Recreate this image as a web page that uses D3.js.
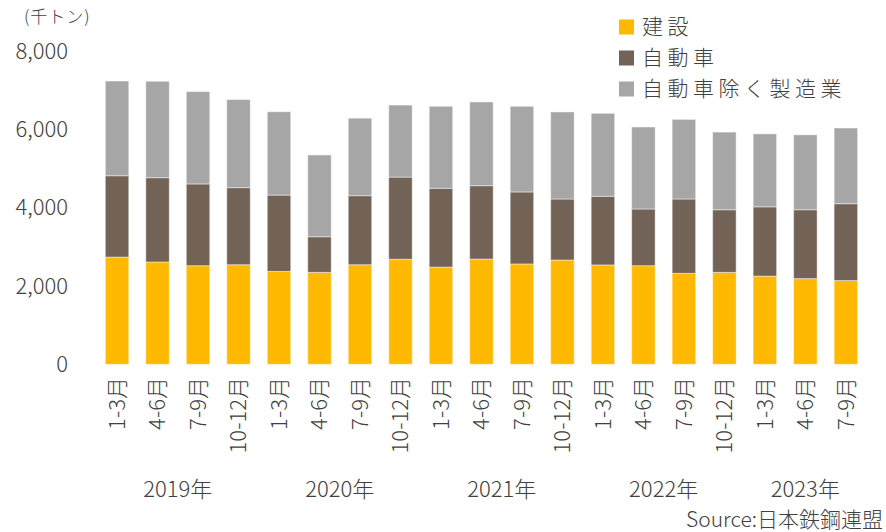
<!DOCTYPE html>
<html>
<head>
<meta charset="utf-8">
<script src="https://cdn.jsdelivr.net/npm/d3@7"></script>
<style>
  html, body { margin: 0; padding: 0; background: #fff; }
  svg { display: block; font-family: "Noto Sans CJK JP", "Noto Sans", sans-serif; font-weight: 300; }
  text { fill: #404040; }
</style>
</head>
<body>
<div id="chart"></div>
<script>
// data (thousand tonnes)
const quarters = ['1-3月', '4-6月', '7-9月', '10-12月',
  '1-3月', '4-6月', '7-9月', '10-12月',
  '1-3月', '4-6月', '7-9月', '10-12月',
  '1-3月', '4-6月', '7-9月', '10-12月',
  '1-3月', '4-6月', '7-9月'];
const years = ['2019年', '2020年', '2021年', '2022年', '2023年'];
const yearOf = [0, 0, 0, 0, 1, 1, 1, 1, 2, 2, 2, 2, 3, 3, 3, 3, 4, 4, 4];
const seriesNames = ['建設', '自動車', '自動車除く製造業'];
const construction = [2740, 2615, 2520, 2545, 2375, 2350, 2545, 2685, 2485, 2690,
  2565, 2665, 2540, 2520, 2325, 2350, 2255, 2190, 2140];
const automobile = [2080, 2155, 2090, 1970, 1950, 910, 1765, 2100, 2015, 1875,
  1840, 1560, 1755, 1450, 1900, 1600, 1770, 1760, 1965];
const otherMfg = [2420, 2465, 2360, 2250, 2130, 2090, 1980, 1840, 2095, 2140,
  2190, 2225, 2120, 2095, 2035, 1985, 1865, 1915, 1935];
const yTicks = [0, 2000, 4000, 6000, 8000];
const colors = ['#FFB900', '#736357', '#A6A6A6'];

const width = 886, height = 532;
const svg = d3.select('#chart').append('svg')
  .attr('width', width)
  .attr('height', height);

const x = d3.scaleBand()
  .domain(d3.range(quarters.length))
  .range([96.8, 866.1])
  .paddingInner(0.42)
  .paddingOuter(0.21);

const y = d3.scaleLinear()
  .domain([0, 8000])
  .range([364.3, 51.3]);

const rows = quarters.map((q, i) => ({
  i: i,
  '建設': construction[i],
  '自動車': automobile[i],
  '自動車除く製造業': otherMfg[i]
}));
const stacked = d3.stack().keys(seriesNames)(rows);

// bars
svg.append('g').selectAll('g')
  .data(stacked)
  .join('g')
  .attr('fill', (d, k) => colors[k])
  .selectAll('rect')
  .data(d => d)
  .join('rect')
  .attr('x', d => x(d.data.i))
  .attr('width', x.bandwidth())
  .attr('y', d => y(d[1]))
  .attr('height', d => y(d[0]) - y(d[1]))
  .attr('stroke', 'rgba(255,255,255,0.45)')
  .attr('stroke-width', 1);

// y axis labels
const yAxis = svg.append('g')
  .attr('transform', 'translate(68,0)')
  .call(d3.axisLeft(y).tickValues(yTicks).tickSize(0).tickPadding(0).tickFormat(d3.format(',')));
yAxis.select('.domain').remove();
yAxis.selectAll('text')
  .style('font-size', '22px')
  .style('font-family', '"Noto Sans CJK JP", sans-serif')
  .style('font-weight', 300)
  .attr('fill', '#404040');

// unit label
svg.append('text')
  .attr('x', 24)
  .attr('y', 17)
  .attr('dy', '0.35em')
  .style('font-size', '17px')
  .style('letter-spacing', '1px')
  .text('(千トン)');

// x axis quarter labels (rotated)
svg.append('g').selectAll('text')
  .data(quarters)
  .join('text')
  .attr('transform', (d, i) => `translate(${x(i) + x.bandwidth() / 2},377) rotate(-90)`)
  .attr('text-anchor', 'end')
  .attr('dy', '0.35em')
  .style('font-size', '22px')
  .text(d => d);

// year labels centred under their quarters
svg.append('g').selectAll('text')
  .data(years)
  .join('text')
  .attr('x', (d, k) => {
    const idx = d3.range(quarters.length).filter(i => yearOf[i] === k);
    return (x(idx[0]) + x(idx[idx.length - 1]) + x.bandwidth()) / 2;
  })
  .attr('y', 489)
  .attr('dy', '0.35em')
  .attr('text-anchor', 'middle')
  .style('font-size', '22px')
  .text(d => d);

// legend
const legend = svg.append('g').selectAll('g')
  .data(seriesNames)
  .join('g')
  .attr('transform', (d, k) => `translate(619,${27 + k * 31})`);
legend.append('rect')
  .attr('x', 0)
  .attr('y', -7.5)
  .attr('width', 15)
  .attr('height', 15)
  .attr('fill', (d, k) => colors[k]);
legend.append('text')
  .attr('x', 23)
  .attr('dy', '0.35em')
  .style('font-size', '21px')
  .style('letter-spacing', '4.5px')
  .text(d => d);

// source
svg.append('text')
  .attr('x', 883)
  .attr('y', 520)
  .attr('dy', '0.35em')
  .attr('text-anchor', 'end')
  .style('font-size', '21px')
  .text('Source:日本鉄鋼連盟');
</script>
</body>
</html>
